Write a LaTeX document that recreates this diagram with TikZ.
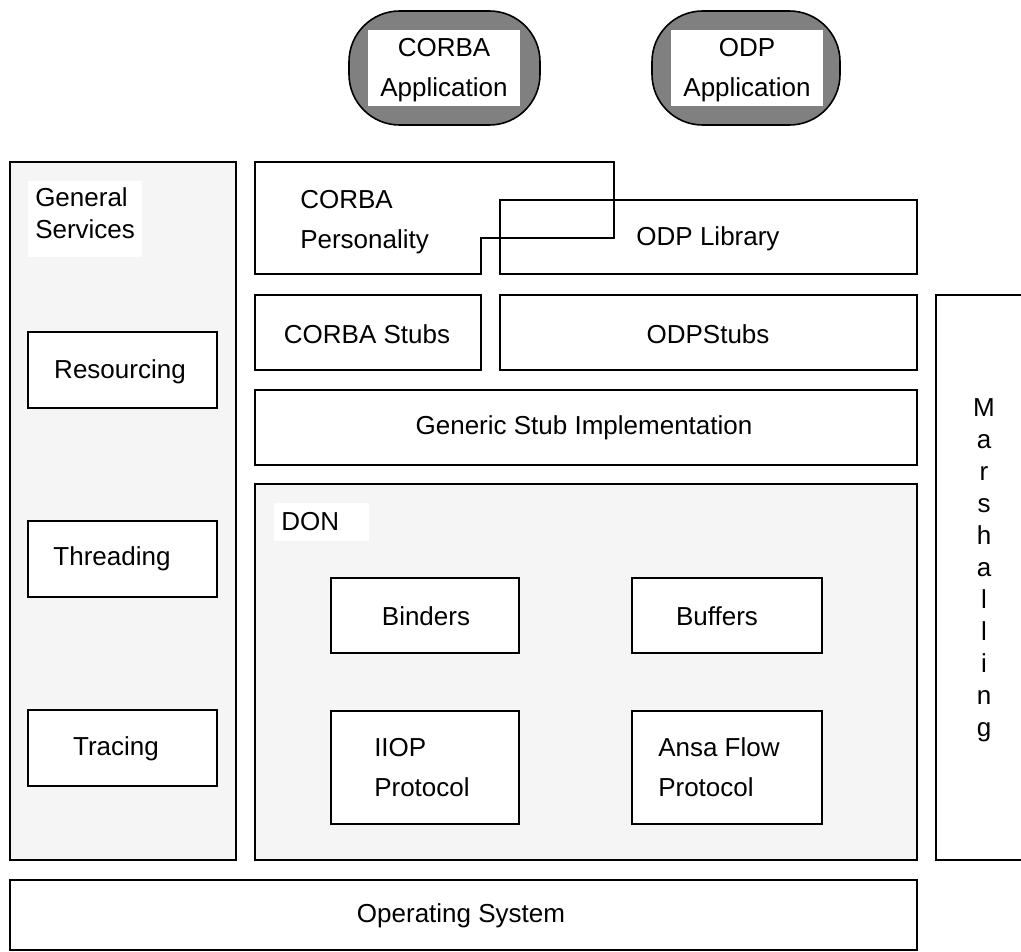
\documentclass[tikz,border=0pt]{standalone}
\usepackage{fontspec}
\setmainfont{Liberation Sans}
\usetikzlibrary{fit}
\definecolor{panel}{HTML}{F5F5F5}
\definecolor{appgray}{HTML}{808080}
\begin{document}
\begin{tikzpicture}[x=0.75pt,y=-0.75pt,
  box/.style={draw, line width=1.4pt, inner sep=0pt},
  plate/.style={fill=white, inner sep=0pt},
  txt/.style={font=\fontsize{19.5}{30}\selectfont, inner sep=0pt},
  app/.style={box, line width=1.2pt, fill=appgray, rounded corners=38pt},
]
\useasboundingbox (0,0) rectangle (1021,952);

% applications on top
\node[app, fit={(349,11) (540,125)}] (corbaapp) {};
\node[plate, fit={(368,30) (520,106)}] (corbaappbg) {};
\node[txt, align=center] (corbaapptxt) at ([yshift=-1.5pt]corbaappbg.center) {CORBA\\Application};
\node[app, fit={(652,11) (840,125)}] (odpapp) {};
\node[plate, fit={(671,30) (823,106)}] (odpappbg) {};
\node[txt, align=center] (odpapptxt) at ([yshift=-1.5pt]odpappbg.center) {ODP\\Application};

% general services column
\node[box, fill=panel, fit={(10,162) (236,860)}] (gs) {};
\node[plate, fit={(28,181) (142,257)}] (gsbg) {};
\node[txt, anchor=base west] (gs1) at (35,207) {General};
\node[txt, anchor=base west] (gs2) at (35,239) {Services};
\node[box, fill=white, fit={(28,332) (217,408)}] (res) {};
\node[txt] (restxt) at (120,372) {Resourcing};
\node[box, fill=white, fit={(28,521) (217,597)}] (thr) {};
\node[txt] (thrtxt) at (112,559) {Threading};
\node[box, fill=white, fit={(28,710) (217,786)}] (trc) {};
\node[txt] (trctxt) at (116,749) {Tracing};

% personality and library layer
\coordinate (cp1) at (255,162);
\coordinate (cp2) at (614,162);
\coordinate (cp3) at (614,238);
\coordinate (cp4) at (481,238);
\coordinate (cp5) at (481,274);
\coordinate (cp6) at (255,274);
\draw[line width=1.4pt] (cp1) -- (cp2) -- (cp3) -- (cp4) -- (cp5) -- (cp6) -- cycle;
\node[txt, anchor=base west] (cp7) at (300,209) {CORBA};
\node[txt, anchor=base west] (cp8) at (300,249) {Personality};
\node[box, fit={(500,200) (917,274)}] (odplib) {};
\node[txt] (odplibtxt) at (708,239) {ODP Library};

% stubs
\node[box, fill=white, fit={(255,295) (481,370)}] (cstubs) {};
\node[txt] (cstubstxt) at (367,334) {CORBA Stubs};
\node[box, fill=white, fit={(500,295) (917,370)}] (ostubs) {};
\node[txt] (ostubstxt) at (708,334) {ODPStubs};
\node[box, fill=white, fit={(255,390) (917,465)}] (gen) {};
\node[txt] (gentxt) at (584,428) {Generic Stub Implementation};

% DON
\node[box, fill=panel, fit={(255,484) (917,860)}] (don) {};
\node[plate, fit={(274,503) (369,541)}] (donbg) {};
\node[txt, anchor=base west] (dontxt) at (281,530) {DON};
\node[box, fill=white, fit={(331,578) (519,653)}] (bind) {};
\node[txt] (bindtxt) at (426,616) {Binders};
\node[box, fill=white, fit={(632,578) (822,653)}] (buf) {};
\node[txt] (buftxt) at (717,616) {Buffers};
\node[box, fill=white, fit={(331,711) (519,824)}] (iiop) {};
\node[txt, anchor=base west] (iiop1) at (374,756) {IIOP};
\node[txt, anchor=base west] (iiop2) at (374,796) {Protocol};
\node[box, fill=white, fit={(632,711) (822,824)}] (ansa) {};
\node[txt, anchor=base west] (ansa1) at (658,756) {Ansa Flow};
\node[txt, anchor=base west] (ansa2) at (658,796) {Protocol};

% marshalling column, open to the right
\node[box, fill=white, fit={(936,295) (1040,860)}] (mar) {};
\foreach \ch [count=\i from 0] in {M,a,r,s,h,a,l,l,i,n,g}
  \node[txt, anchor=base] (mar\i) at (984,416+32*\i) {\ch};

% operating system
\node[box, fill=white, fit={(10,880) (917,950)}] (os) {};
\node[txt] (ostxt) at (461,916) {Operating System};
\end{tikzpicture}
\end{document}
